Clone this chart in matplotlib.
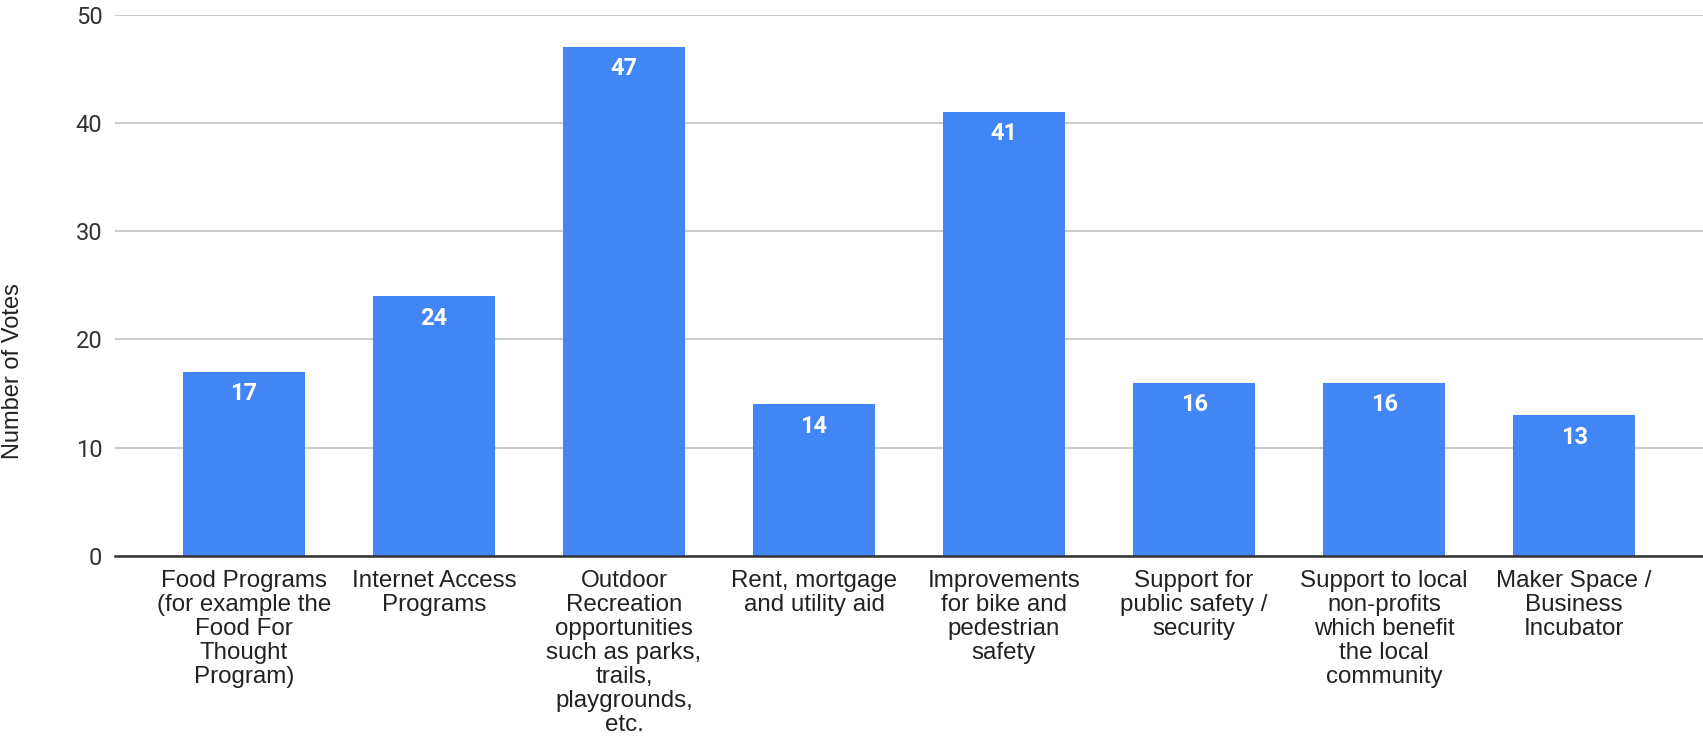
import numpy as np
import matplotlib.pyplot as plt

categories = [
    "Food Programs\n(for example the\nFood For\nThought\nProgram)",
    "Internet Access\nPrograms",
    "Outdoor\nRecreation\nopportunities\nsuch as parks,\ntrails,\nplaygrounds,\netc.",
    "Rent, mortgage\nand utility aid",
    "Improvements\nfor bike and\npedestrian\nsafety",
    "Support for\npublic safety /\nsecurity",
    "Support to local\nnon-profits\nwhich benefit\nthe local\ncommunity",
    "Maker Space /\nBusiness\nIncubator",
]
votes = [17, 24, 47, 14, 41, 16, 16, 13]
yticks = [0, 10, 20, 30, 40, 50]

fig = plt.figure(figsize=(17.03, 7.38), dpi=100)
ax = fig.add_axes([115 / 1703, 1 - 556 / 738, 1 - 115 / 1703, (556 - 14.5) / 738])

x = np.arange(len(votes))
bars = ax.bar(x, votes, width=0.645, color='#4285F4', linewidth=0, zorder=3)

# data labels inside the top of each bar
for rect, v in zip(bars, votes):
    ax.annotate(str(v), (rect.get_x() + rect.get_width() / 2, v),
                xytext=(0, -22), textcoords='offset pixels',
                ha='center', va='center', color='white',
                fontsize=17, fontfamily='Roboto', fontweight='bold', zorder=4)

ax.set_xlim(-0.678, len(votes) - 1 + 0.678)
ax.set_ylim(0, 50)
ax.set_yticks(yticks)
ax.set_yticklabels([str(t) for t in yticks], fontsize=17, fontfamily='Roboto', color='#333333')
ax.set_xticks(x)
ax.set_xticklabels(categories, fontsize=17.4, fontfamily='Liberation Sans',
                   color='#222222', linespacing=1.12, va='top')
ax.tick_params(axis='both', length=0)
ax.tick_params(axis='y', pad=9)
ax.tick_params(axis='x', pad=10)

ax.grid(axis='y', color='#cccccc', linewidth=1.5, zorder=0)
for s in ['top', 'right', 'left']:
    ax.spines[s].set_visible(False)
ax.spines['bottom'].set_color('#333333')
ax.spines['bottom'].set_linewidth(1.8)
ax.spines['bottom'].set_zorder(5)

fig.text(13 / 1703, 1 - 371 / 738, 'Number of Votes', rotation=90, ha='center', va='center',
         fontsize=17, fontfamily='Liberation Sans', color='#222222')

fig.savefig('out.png', dpi=100)
